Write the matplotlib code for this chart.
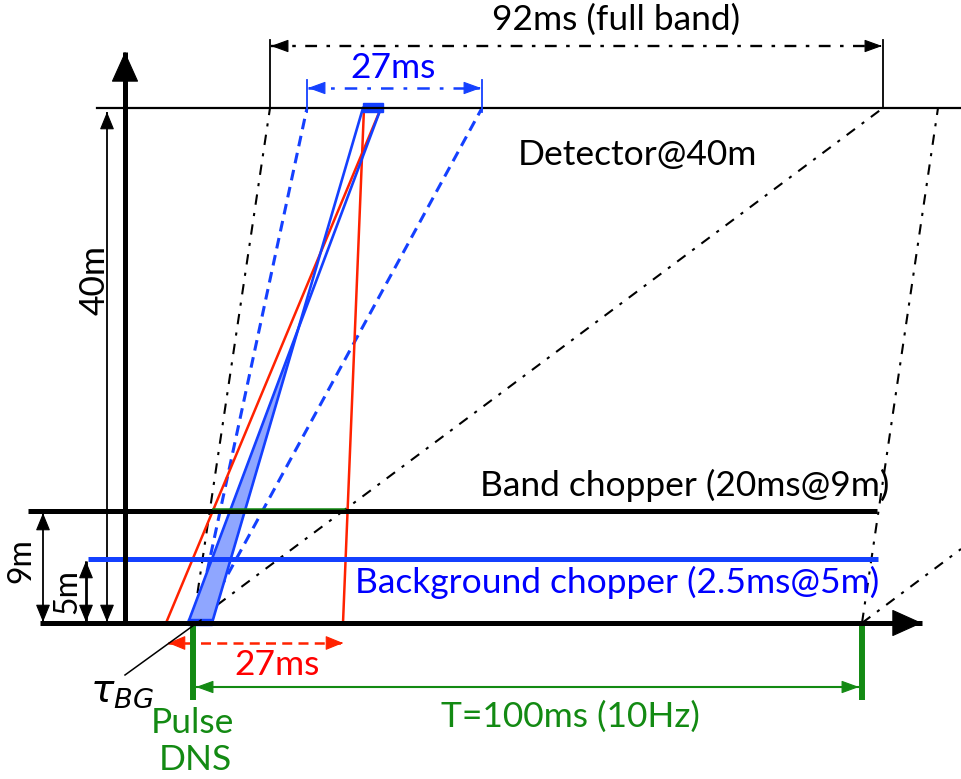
import matplotlib.pyplot as plt

plt.rcParams['font.family'] = ['Lato', 'DejaVu Sans']

# coordenadas do esquema (pixels da figura, y para baixo)
y_base = 623          # pulso / fonte
y_det = 108           # detector @ 40m
y_band = 511          # chopper de banda @ 9m
y_bg = 559            # chopper de fundo @ 5m
x_eixo = 125
x_pulso = 193
x_pulso2 = 862

# linhas traço-ponto pretas (banda completa)
preto_tp = [((193, 623), (270, 108)), ((193, 623), (883, 108)),
            ((862, 623), (938, 108)), ((862, 623), (961, 549))]
# linhas tracejadas azuis (27ms no detector)
azul_tr = [((196, 623), (307, 108)), ((203, 620), (482, 108))]
# linhas azuis cheias
azul_A = ((212, 623), (363, 108))
azul_B = ((188, 623), (381, 108))
# linhas vermelhas
verm = [((166, 623), (381, 108)), ((343, 623), (364, 108))]

AZUL = '#1440ff'
AZUL_TXT = '#0000ff'
VERM = '#ff2200'
VERDE = '#138a13'

fig = plt.figure(figsize=(9.61, 7.79), dpi=100)
ax = fig.add_axes([0, 0, 1, 1])
ax.set_xlim(0, 961)
ax.set_ylim(779, 0)
ax.axis('off')


def head(x0, y0, x1, y1, cor, hl, hw, z=5):
    ax.annotate('', xy=(x1, y1), xytext=(x0, y0),
                arrowprops=dict(arrowstyle=f'-|>,head_length={hl},head_width={hw}',
                                color=cor, lw=0.8, shrinkA=0, shrinkB=0,
                                mutation_scale=1), zorder=z)


def seta(x0, y0, x1, y1, cor='k', lw=1.2, hl=10, hw=4.5, dashes=None, dois=True, z=5):
    kw = dict(color=cor, lw=lw, zorder=z, solid_capstyle='butt')
    if dashes is not None:
        kw['dashes'] = dashes
    ax.plot([x0, x1], [y0, y1], **kw)
    dx, dy = x1 - x0, y1 - y0
    n = (dx ** 2 + dy ** 2) ** 0.5
    ux, uy = dx / n, dy / n
    head(x1 - ux * 2, y1 - uy * 2, x1, y1, cor, hl, hw, z)
    if dois:
        head(x0 + ux * 2, y0 + uy * 2, x0, y0, cor, hl, hw, z)


# linhas de tempo
for (a, b) in preto_tp:
    ax.plot([a[0], b[0]], [a[1], b[1]], color='k', lw=1.5, dashes=(5, 4, 1.5, 4), zorder=2)
for (a, b) in azul_tr:
    ax.plot([a[0], b[0]], [a[1], b[1]], color=AZUL, lw=2.2, dashes=(3.5, 2.2), zorder=3)
for (a, b) in verm:
    ax.plot([a[0], b[0]], [a[1], b[1]], color=VERM, lw=1.8, zorder=4)

# triangulo azul preenchido entre as linhas A e B
sa = (azul_A[1][0] - azul_A[0][0]) / (azul_A[0][1] - azul_A[1][1])
sb = (azul_B[1][0] - azul_B[0][0]) / (azul_B[0][1] - azul_B[1][1])
h = (azul_A[0][0] - azul_B[0][0]) / (sb - sa)
yc = y_base - h
xc = azul_A[0][0] + sa * h
ax.fill([azul_B[0][0], azul_A[0][0], xc], [y_base, y_base, yc],
        color='#8fa6ff', zorder=3)
for (a, b) in (azul_A, azul_B):
    ax.plot([a[0], b[0]], [a[1], b[1]], color=AZUL, lw=1.9, zorder=4)
ax.fill([188, 212, 212, 188], [619, 619, 625, 625], color=AZUL, zorder=4)
ax.fill([363, 383, 383, 363], [103, 103, 112, 112], color=AZUL, zorder=5)

# choppers e detector
ax.plot([97, 961], [y_det, y_det], color='k', lw=1.6, zorder=6)
ax.plot([28, 877], [y_band, y_band], color='k', lw=3.6, zorder=6, solid_capstyle='butt')
ax.plot([88, 878], [y_bg, y_bg], color=AZUL, lw=3.6, zorder=6, solid_capstyle='butt')
ax.plot([213, 345], [509, 509], color=VERDE, lw=1.1, zorder=7)

# eixos
seta(40, y_base, 922, y_base, lw=3.6, hl=20, hw=9, dois=False, z=8)
seta(x_eixo, y_base, x_eixo, 52, lw=3.6, hl=20, hw=9, dois=False, z=8)

# cotas verticais
seta(107, y_det + 4, 107, y_base - 1, lw=1.3, hl=11, hw=4.5)
seta(43, y_band + 2, 43, y_base - 1, lw=1.3, hl=11, hw=4.5)
seta(86, y_bg + 2, 86, y_base - 1, lw=2, hl=11, hw=4.5)

# cotas no topo
ax.plot([270, 270], [40, y_det], color='k', lw=1.3, zorder=6)
ax.plot([883, 883], [40, y_det], color='k', lw=1.3, zorder=6)
seta(271, 46, 882, 46, lw=1.7, hl=11, hw=4, dashes=(5, 4, 1.5, 4))
ax.plot([307, 307], [80, 112], color=AZUL, lw=1.3, zorder=6)
ax.plot([482, 482], [80, 112], color=AZUL, lw=1.3, zorder=6)
seta(308, 88, 481, 88, cor=AZUL, lw=1.8, hl=11, hw=4, dashes=(5, 4, 1.5, 4))

# periodo e 27ms em baixo
ax.plot([x_pulso, x_pulso], [y_base, 700], color=VERDE, lw=4.3, zorder=7, solid_capstyle='butt')
ax.plot([x_pulso2, x_pulso2], [y_base, 700], color=VERDE, lw=4.3, zorder=7, solid_capstyle='butt')
seta(196, 687, 859, 687, cor=VERDE, lw=1.5, hl=11, hw=4)
seta(168, 643, 343, 643, cor=VERM, lw=1.8, hl=11, hw=4.5, dashes=(4, 2.5))

# tau_BG
ax.plot([125, 201], [675, 620], color='k', lw=1.1, zorder=9)

# textos
fs = 25.5
ax.text(616, 20, '92ms (full band)', fontsize=fs, ha='center', va='center')
ax.text(393, 68, '27ms', fontsize=fs, ha='center', va='center', color=AZUL_TXT)
ax.text(637, 155, 'Detector@40m', fontsize=fs, ha='center', va='center')
ax.text(95, 280, '40m', fontsize=fs, ha='center', va='center', rotation=90)
ax.text(685, 485, 'Band chopper (20ms@9m)', fontsize=fs, ha='center', va='center')
ax.text(617, 582, 'Background chopper (2.5ms@5m)', fontsize=fs, ha='center', va='center',
        color=AZUL_TXT)
ax.text(21, 561, '9m', fontsize=23, ha='center', va='center', rotation=90)
ax.text(67, 592, '5m', fontsize=23, ha='center', va='center', rotation=90)
ax.text(277, 665, '27ms', fontsize=fs, ha='center', va='center', color='#ff0000')
ax.text(570, 717, 'T=100ms (10Hz)', fontsize=fs, ha='center', va='center', color=VERDE)
ax.text(192, 723, 'Pulse', fontsize=fs, ha='center', va='center', color=VERDE)
ax.text(195, 760, 'DNS', fontsize=fs, ha='center', va='center', color=VERDE)
ax.text(122, 692, r'$\tau_{BG}$', fontsize=28, ha='center', va='center')

fig.savefig('out.png', dpi=100)
